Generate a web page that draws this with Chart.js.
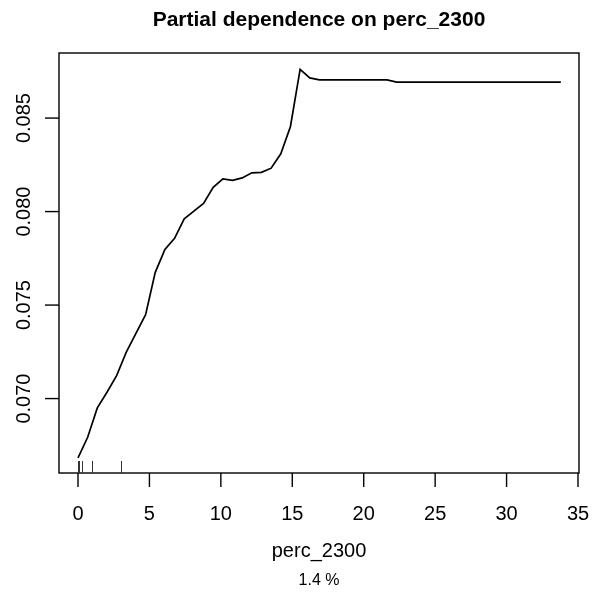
<!DOCTYPE html>
<html><head><meta charset="utf-8">
<script src="https://cdn.jsdelivr.net/npm/chart.js@4.4.1/dist/chart.umd.min.js"></script>
<style>html,body{margin:0;padding:0;background:#fff;}canvas{display:block;}</style>
</head><body>
<canvas id="c" width="605" height="593"></canvas>
<script>
const chartTitle = 'Partial dependence on perc_2300';
const xAxisLabel = 'perc_2300';
const subLabel = '1.4 %';

const gridX = [0, 0.676, 1.352, 2.028, 2.704, 3.380, 4.056, 4.732, 5.408, 6.084,
  6.760, 7.436, 8.112, 8.788, 9.464, 10.140, 10.816, 11.492, 12.168, 12.844,
  13.520, 14.196, 14.872, 15.548, 16.224, 16.900, 17.576, 18.252, 18.928, 19.604,
  20.280, 20.956, 21.632, 22.308, 22.984, 23.660, 24.336, 25.012, 25.688, 26.364,
  27.040, 27.716, 28.392, 29.068, 29.744, 30.420, 31.096, 31.772, 32.448, 33.124, 33.800];

const pdValues = [0.06683, 0.06793, 0.06950, 0.07034, 0.07123, 0.07248, 0.07349, 0.07449, 0.07675, 0.07797,
  0.07857, 0.07961, 0.08002, 0.08044, 0.08130, 0.08175, 0.08167, 0.08180, 0.08207, 0.08210,
  0.08232, 0.08309, 0.08455, 0.08760, 0.08715, 0.08704, 0.08704, 0.08704, 0.08704, 0.08704,
  0.08704, 0.08704, 0.08704, 0.08692, 0.08692, 0.08692, 0.08692, 0.08692, 0.08692, 0.08692,
  0.08692, 0.08692, 0.08692, 0.08692, 0.08692, 0.08692, 0.08692, 0.08692, 0.08692, 0.08692, 0.08692];

const rugX = [0, 0.1, 0.25, 0.95, 3.0];

const xTicks = [0, 5, 10, 15, 20, 25, 30, 35];
const xTickLabels = ['0', '5', '10', '15', '20', '25', '30', '35'];
const yTicks = [0.070, 0.075, 0.080, 0.085];
const yTickLabels = ['0.070', '0.075', '0.080', '0.085'];

const FONT = '"Liberation Sans", Arial, Helvetica, sans-serif';

const rPlot = {
  id: 'rPlot',
  afterDraw(chart) {
    const ctx = chart.ctx;
    const a = chart.chartArea;
    const x = chart.scales.x, y = chart.scales.y;
    ctx.save();
    // box
    ctx.strokeStyle = '#000';
    ctx.lineWidth = 1.4;
    ctx.strokeRect(a.left, a.top, a.right - a.left, a.bottom - a.top);
    // tick marks
    ctx.lineWidth = 1.4;
    xTicks.forEach(v => {
      const px = x.getPixelForValue(v);
      ctx.beginPath(); ctx.moveTo(px, a.bottom); ctx.lineTo(px, a.bottom + 14); ctx.stroke();
    });
    yTicks.forEach(v => {
      const py = y.getPixelForValue(v);
      ctx.beginPath(); ctx.moveTo(a.left, py); ctx.lineTo(a.left - 14, py); ctx.stroke();
    });
    // rug
    ctx.lineWidth = 1;
    ctx.strokeStyle = '#333';
    rugX.forEach(v => {
      const px = Math.round(x.getPixelForValue(v)) + 0.5;
      ctx.beginPath(); ctx.moveTo(px, a.bottom); ctx.lineTo(px, a.bottom - 12); ctx.stroke();
    });
    // tick labels
    ctx.fillStyle = '#000';
    ctx.font = '20px ' + FONT;
    ctx.textAlign = 'center';
    ctx.textBaseline = 'alphabetic';
    xTicks.forEach((v, i) => ctx.fillText(xTickLabels[i], x.getPixelForValue(v), a.bottom + 47));
    yTicks.forEach((v, i) => {
      ctx.save();
      ctx.translate(a.left - 29, y.getPixelForValue(v));
      ctx.rotate(-Math.PI / 2);
      ctx.fillText(yTickLabels[i], 0, 0);
      ctx.restore();
    });
    const cx = (a.left + a.right) / 2;
    // axis label
    ctx.fillText(xAxisLabel, cx, a.bottom + 84);
    ctx.font = '16px ' + FONT;
    ctx.fillText(subLabel, cx, a.bottom + 112);
    // title
    ctx.font = 'bold 21px ' + FONT;
    ctx.fillText(chartTitle, cx, 25.5);
    ctx.restore();
  }
};

new Chart(document.getElementById('c'), {
  type: 'scatter',
  data: {
    datasets: [{
      data: gridX.map((v, i) => ({ x: v, y: pdValues[i] })),
      showLine: true,
      borderColor: '#000',
      borderWidth: 1.7,
      pointRadius: 0,
      tension: 0,
      fill: false
    }]
  },
  options: {
    responsive: false,
    animation: false,
    devicePixelRatio: 1,
    layout: { padding: { left: 59, right: 26, top: 53, bottom: 120 } },
    plugins: { legend: { display: false }, title: { display: false }, tooltip: { enabled: false } },
    scales: {
      x: { type: 'linear', display: false, min: -1.33, max: 35.07 },
      y: { type: 'linear', display: false, min: 0.06602, max: 0.08848 }
    }
  },
  plugins: [rPlot]
});
</script>
</body></html>
